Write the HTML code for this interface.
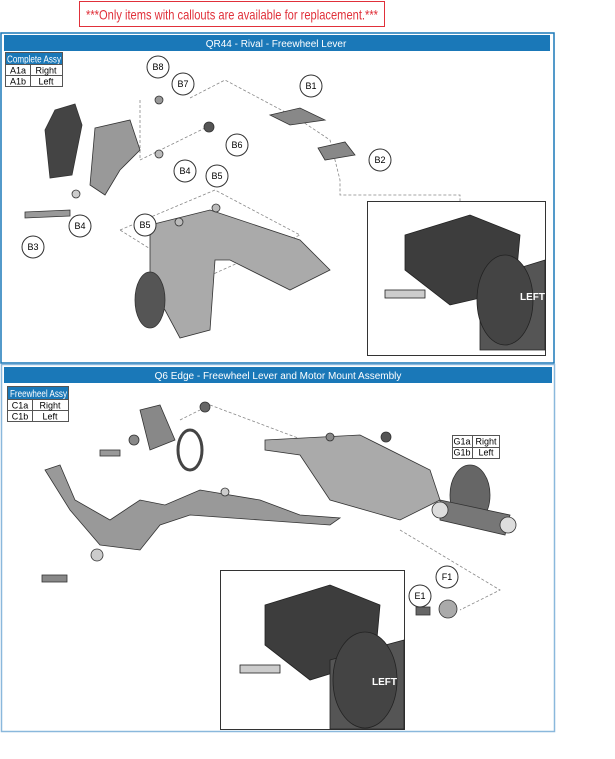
<!DOCTYPE html>
<html><head><style>
body{margin:0;background:#fff;width:615px;height:754px;overflow:hidden;font-family:"Liberation Sans",sans-serif}
</style></head><body>
<svg width="615" height="754" xmlns="http://www.w3.org/2000/svg" font-family="Liberation Sans, sans-serif">
<rect x="79.5" y="1.5" width="305" height="25" fill="#fff" stroke="#e0303a"/>
<text x="86" y="19.5" font-size="14" fill="#e0303a" textLength="292" lengthAdjust="spacingAndGlyphs">***Only items with callouts are available for replacement.***</text>
<rect x="1" y="33" width="553" height="330" fill="#fff" stroke="#1a78b8" stroke-width="1.5"/>
<rect x="4" y="35" width="546" height="16" fill="#1a78b8"/>
<text x="276" y="47" font-size="10" fill="#fff" text-anchor="middle">QR44 - Rival - Freewheel Lever</text>
<rect x="5.5" y="52.5" width="57" height="34" fill="#fff" stroke="#555"/>
<rect x="6" y="53" width="56" height="11" fill="#1a78b8"/>
<text x="7" y="62.5" font-size="10.5" fill="#fff" textLength="54" lengthAdjust="spacingAndGlyphs">Complete Assy</text>
<line x1="6" y1="64.5" x2="62" y2="64.5" stroke="#555"/><line x1="6" y1="75.5" x2="62" y2="75.5" stroke="#555"/><line x1="30.5" y1="64" x2="30.5" y2="86" stroke="#555"/>
<text x="18" y="73.5" font-size="9" text-anchor="middle">A1a</text><text x="46" y="73.5" font-size="9" text-anchor="middle">Right</text>
<text x="18" y="84.5" font-size="9" text-anchor="middle">A1b</text><text x="46" y="84.5" font-size="9" text-anchor="middle">Left</text>
<g fill="none" stroke="#888" stroke-dasharray="3,2" stroke-width="0.8">
<path d="M190 98 L225 80 L300 120 L330 140 L340 180 L340 195 L460 195 L460 205"/>
<path d="M140 100 L140 160 L205 128"/>
<path d="M120 230 L215 190 L300 235 L200 280 Z"/>
</g>
<g fill="#7a7a7a" stroke="#333" stroke-width="0.8">
<path d="M55 110 L75 104 L82 125 L72 175 L50 178 L45 130 Z" fill="#444"/>
<path d="M95 128 L130 120 L140 150 L120 170 L105 195 L90 185 Z" fill="#999"/>
<path d="M150 225 L210 210 L300 240 L330 270 L290 290 L230 260 L215 260 L210 330 L180 338 L165 310 L150 290 Z" fill="#aaa"/>
<ellipse cx="150" cy="300" rx="15" ry="28" fill="#555"/>
<path d="M270 115 L300 108 L325 120 L290 125 Z" fill="#888"/>
<path d="M318 148 L345 142 L355 155 L325 160 Z" fill="#888"/>
<path d="M25 212 L70 210 L70 216 L25 218 Z" fill="#999"/>
<circle cx="76" cy="194" r="4" fill="#ccc"/><circle cx="159" cy="100" r="4" fill="#999"/><circle cx="209" cy="127" r="5" fill="#555"/><circle cx="159" cy="154" r="4" fill="#bbb"/><circle cx="216" cy="208" r="4" fill="#bbb"/><circle cx="179" cy="222" r="4" fill="#bbb"/>
</g>
<rect x="367.5" y="201.5" width="178" height="154" fill="#fff" stroke="#333"/>
<g stroke="#222" stroke-width="0.8">
<path d="M405 235 L470 215 L520 235 L515 290 L450 305 L405 270 Z" fill="#3d3d3d"/>
<path d="M480 280 L545 260 L545 350 L480 350 Z" fill="#555"/>
<ellipse cx="505" cy="300" rx="28" ry="45" fill="#444"/>
<rect x="385" y="290" width="40" height="8" fill="#ccc"/>
<text x="520" y="300" font-size="10" fill="#fff" stroke="none" font-weight="bold">LEFT</text>
</g>
<g font-size="9" text-anchor="middle" fill="#fff" stroke="#333">
<circle cx="158" cy="67" r="11"/><circle cx="183" cy="84" r="11"/><circle cx="311" cy="86" r="11"/><circle cx="237" cy="145" r="11"/><circle cx="185" cy="171" r="11"/><circle cx="217" cy="176" r="11"/><circle cx="380" cy="160" r="11"/><circle cx="33" cy="247" r="11"/><circle cx="80" cy="226" r="11"/><circle cx="145" cy="225" r="11"/>
</g>
<g font-size="9" text-anchor="middle" fill="#000">
<text x="158" y="70">B8</text><text x="183" y="87">B7</text><text x="311" y="89">B1</text><text x="237" y="148">B6</text><text x="185" y="174">B4</text><text x="217" y="179">B5</text><text x="380" y="163">B2</text><text x="33" y="250">B3</text><text x="80" y="229">B4</text><text x="145" y="228">B5</text>
</g>
<rect x="1.5" y="364.5" width="553" height="367" fill="#fff" stroke="#8ab8dc" stroke-width="1.5"/>
<rect x="4" y="367" width="548" height="16" fill="#1a78b8"/>
<text x="278" y="379" font-size="10" fill="#fff" text-anchor="middle">Q6 Edge - Freewheel Lever and Motor Mount Assembly</text>
<rect x="7.5" y="386.5" width="61" height="35" fill="#fff" stroke="#555"/>
<rect x="8" y="387" width="60" height="12" fill="#1a78b8"/>
<text x="10" y="397" font-size="10.5" fill="#fff" textLength="57" lengthAdjust="spacingAndGlyphs">Freewheel Assy</text>
<line x1="8" y1="399.5" x2="68" y2="399.5" stroke="#555"/><line x1="8" y1="410.5" x2="68" y2="410.5" stroke="#555"/><line x1="32.5" y1="399" x2="32.5" y2="421" stroke="#555"/>
<text x="20" y="408.5" font-size="9" text-anchor="middle">C1a</text><text x="50" y="408.5" font-size="9" text-anchor="middle">Right</text>
<text x="20" y="419.5" font-size="9" text-anchor="middle">C1b</text><text x="50" y="419.5" font-size="9" text-anchor="middle">Left</text>
<rect x="452.5" y="435.5" width="47" height="23" fill="#fff" stroke="#555"/>
<line x1="452" y1="447.5" x2="500" y2="447.5" stroke="#555"/><line x1="472.5" y1="435" x2="472.5" y2="459" stroke="#555"/>
<text x="462" y="444.5" font-size="9" text-anchor="middle">G1a</text><text x="486" y="444.5" font-size="9" text-anchor="middle">Right</text>
<text x="462" y="455.5" font-size="9" text-anchor="middle">G1b</text><text x="486" y="455.5" font-size="9" text-anchor="middle">Left</text>
<g fill="none" stroke="#888" stroke-dasharray="3,2" stroke-width="0.8">
<path d="M210 405 L330 450 L350 460"/><path d="M180 420 L200 410"/><path d="M400 530 L500 590 L460 610"/>
</g>
<g stroke="#333" stroke-width="0.8">
<path d="M45 470 L60 465 L75 500 L110 520 L140 500 L165 505 L200 490 L260 500 L300 515 L340 518 L330 525 L260 520 L190 515 L160 525 L140 550 L100 545 L70 510 Z" fill="#999"/>
<path d="M140 410 L160 405 L175 440 L150 450 Z" fill="#888"/>
<ellipse cx="190" cy="450" rx="12" ry="20" fill="none" stroke="#444" stroke-width="3"/>
<path d="M265 440 L360 435 L430 470 L440 500 L400 520 L330 500 L300 455 L265 450 Z" fill="#aaa"/>
<ellipse cx="470" cy="495" rx="20" ry="30" fill="#666"/>
<path d="M440 500 L510 515 L505 535 L440 520 Z" fill="#777"/>
<circle cx="440" cy="510" r="8" fill="#ddd"/><circle cx="508" cy="525" r="8" fill="#ddd"/>
<rect x="42" y="575" width="25" height="7" fill="#888"/><circle cx="97" cy="555" r="6" fill="#ccc"/><rect x="100" y="450" width="20" height="6" fill="#999"/><circle cx="134" cy="440" r="5" fill="#888"/><circle cx="205" cy="407" r="5" fill="#666"/><circle cx="386" cy="437" r="5" fill="#555"/><circle cx="330" cy="437" r="4" fill="#888"/><circle cx="225" cy="492" r="4" fill="#ccc"/>
<circle cx="448" cy="609" r="9" fill="#aaa"/><rect x="416" y="607" width="14" height="8" fill="#666"/>
</g>
<rect x="220.5" y="570.5" width="184" height="159" fill="#fff" stroke="#333"/>
<g stroke="#222" stroke-width="0.8">
<path d="M265 605 L330 585 L380 605 L375 660 L310 680 L265 645 Z" fill="#3d3d3d"/>
<path d="M330 660 L404 640 L404 729 L330 729 Z" fill="#555"/>
<ellipse cx="365" cy="680" rx="32" ry="48" fill="#444"/>
<rect x="240" y="665" width="40" height="8" fill="#ccc"/>
<text x="372" y="685" font-size="10" fill="#fff" stroke="none" font-weight="bold">LEFT</text>
</g>
<g fill="#fff" stroke="#333"><circle cx="420" cy="596" r="11"/><circle cx="447" cy="577" r="11"/></g>
<g font-size="9" text-anchor="middle"><text x="420" y="599">E1</text><text x="447" y="580">F1</text></g>
</svg>
</body></html>
